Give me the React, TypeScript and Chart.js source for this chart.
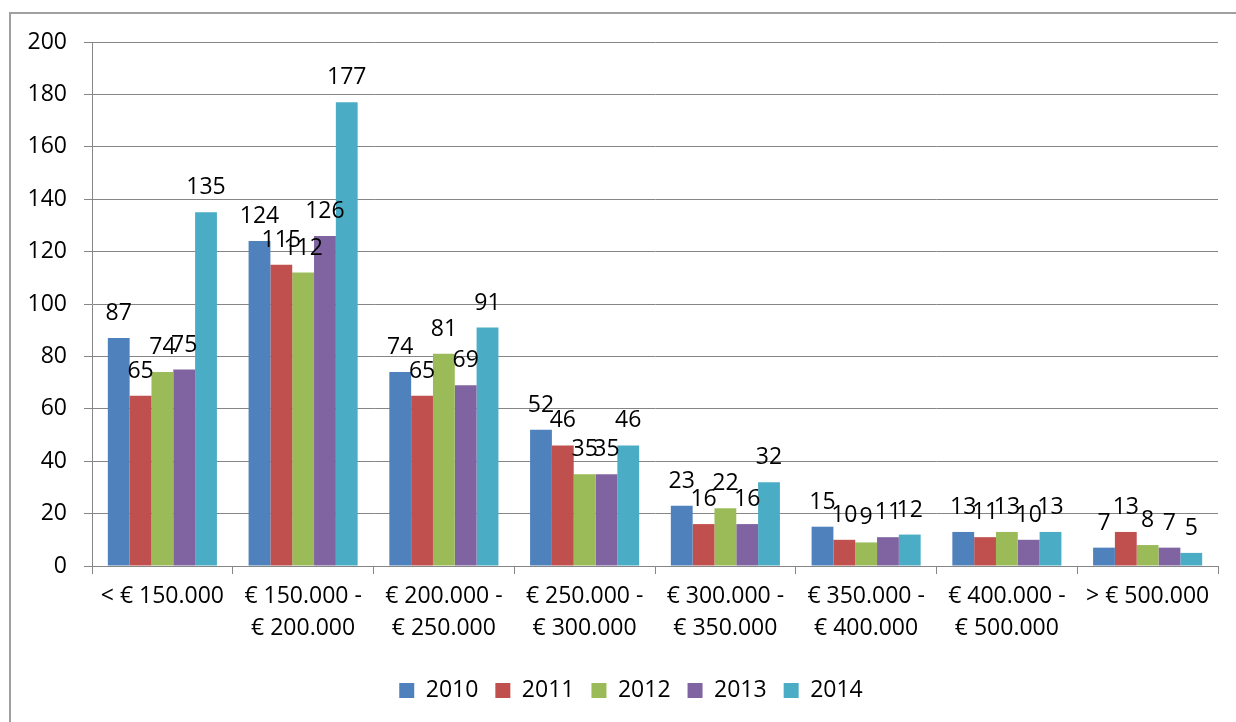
import React, { useEffect, useRef } from "react";
import { Chart, registerables } from "chart.js";

Chart.register(...registerables);

const categories: string[][] = [
  ["< € 150.000"],
  ["€ 150.000 -", "€ 200.000"],
  ["€ 200.000 -", "€ 250.000"],
  ["€ 250.000 -", "€ 300.000"],
  ["€ 300.000 -", "€ 350.000"],
  ["€ 350.000 -", "€ 400.000"],
  ["€ 400.000 -", "€ 500.000"],
  ["> € 500.000"],
];

const seriesNames = ["2010", "2011", "2012", "2013", "2014"];
const values2010 = [87, 124, 74, 52, 23, 15, 13, 7];
const values2011 = [65, 115, 65, 46, 16, 10, 11, 13];
const values2012 = [74, 112, 81, 35, 22, 9, 13, 8];
const values2013 = [75, 126, 69, 35, 16, 11, 10, 7];
const values2014 = [135, 177, 91, 46, 32, 12, 13, 5];
const seriesColors = ["#4F81BD", "#C0504D", "#9BBB59", "#8064A2", "#4BACC6"];
const yTicks = { min: 0, max: 200, step: 20 };

const FONT = '"Open Sans", "DejaVu Sans", sans-serif';
const FS = 23;

const labelPlugin = {
  id: "barValueLabels",
  afterLayout(chart: any) {
    const lg = chart.legend;
    if (lg) {
      lg.left += 22;
      lg.right += 22;
    }
  },
  afterDatasetsDraw(chart: any) {
    const ctx = chart.ctx;
    ctx.save();
    ctx.font = `${FS}px ${FONT}`;
    ctx.fillStyle = "#000";
    ctx.textAlign = "center";
    ctx.textBaseline = "alphabetic";
    chart.data.datasets.forEach((ds: any, i: number) => {
      const meta = chart.getDatasetMeta(i);
      meta.data.forEach((bar: any, j: number) => {
        ctx.fillText(String(ds.data[j]), bar.x, bar.y - 18);
      });
    });
    ctx.restore();
  },
};

export default function App() {
  const ref = useRef<HTMLCanvasElement | null>(null);

  useEffect(() => {
    if (!ref.current) return;
    const all = [values2010, values2011, values2012, values2013, values2014];
    const chart = new Chart(ref.current, {
      type: "bar",
      data: {
        labels: categories,
        datasets: all.map((d, i) => ({
          label: seriesNames[i],
          data: d,
          backgroundColor: seriesColors[i],
          borderWidth: 0,
          barPercentage: 1,
          categoryPercentage: 0.775,
        })),
      },
      options: {
        responsive: false,
        animation: false,
        events: [],
        layout: { padding: { left: 0, right: 18, top: 42, bottom: 10 } },
        plugins: {
          tooltip: { enabled: false },
          legend: {
            position: "bottom",
            labels: {
              boxWidth: 15,
              boxHeight: 15,
              padding: 17,
              color: "#000",
              font: { family: FONT, size: FS },
            },
          },
        },
        scales: {
          x: {
            offset: true,
            grid: {
              offset: true,
              drawOnChartArea: false,
              drawTicks: true,
              tickLength: 8,
              color: "#868686",
            },
            border: { display: true, color: "#868686", width: 1 },
            ticks: {
              color: "#000",
              font: { family: FONT, size: FS, lineHeight: 1.39 },
              maxRotation: 0,
              minRotation: 0,
              autoSkip: false,
              padding: 6,
            },
            afterFit(scale: any) {
              scale.height = 96;
            },
          },
          y: {
            min: yTicks.min,
            max: yTicks.max,
            grid: { color: "#868686", tickLength: 8, lineWidth: 1 },
            border: { display: true, color: "#868686", width: 1 },
            ticks: {
              stepSize: yTicks.step,
              color: "#000",
              padding: 17,
              font: { family: FONT, size: FS },
            },
            afterFit(scale: any) {
              scale.width = 92;
            },
          },
        },
      },
      plugins: [labelPlugin],
    });
    return () => chart.destroy();
  }, []);

  return (
    <>
      <div
        style={{
          position: "fixed",
          left: 9,
          top: 12,
          width: 1300,
          height: 800,
          borderTop: "2px solid #a0a0a0",
          borderLeft: "2px solid #a0a0a0",
          boxSizing: "border-box",
        }}
      />
      <canvas
        ref={ref}
        width={1236}
        height={722}
        style={{ position: "fixed", left: 0, top: 0, width: 1236, height: 722, display: "block" }}
      />
    </>
  );
}
